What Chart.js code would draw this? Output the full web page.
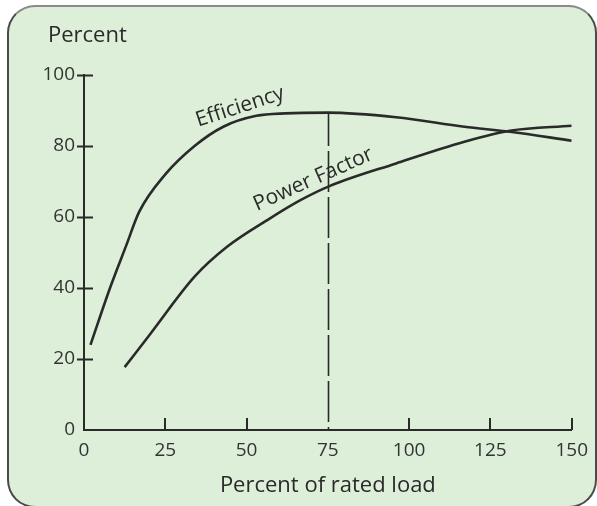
<!DOCTYPE html>
<html>
<head>
<meta charset="utf-8">
<script src="https://cdn.jsdelivr.net/npm/chart.js@4.4.1/dist/chart.umd.min.js"></script>
<style>
  html, body { margin: 0; padding: 0; background: #fff; }
  #wrap { position: relative; width: 597px; height: 506px; overflow: hidden; }
  #frame {
    position: absolute; left: 7px; top: 5px; width: 590px; height: 503px;
    box-sizing: border-box; border: 2px solid #4a4a4a; border-top-color: #8a8a8a;
    border-radius: 28px; background: #ddefd8;
  }
  #chart { position: absolute; left: 0; top: 0; }
</style>
</head>
<body>
<div id="wrap">
  <div id="frame"></div>
  <canvas id="chart" width="597" height="506"></canvas>
</div>
<script>
// values (percent of rated load -> percent)
const effLoad   = [2, 8, 13, 17, 25, 34, 43, 53, 62, 75, 96, 117, 131, 150]
const effValues = [24, 40, 52, 61.5, 72, 80, 85.5, 88.5, 89.2, 89.4, 88.1, 85.4, 84, 81.5]
const pfLoad    = [12.5, 20.5, 34, 44, 56.5, 66.7, 75.5, 96, 117, 131, 150]
const pfValues  = [17.7, 27.2, 43.2, 51.6, 59.2, 64.8, 68.7, 75.1, 81.2, 84.3, 85.7]
const xTicks = [0, 25, 50, 75, 100, 125, 150]
const yTicks = [0, 20, 40, 60, 80, 100]
const ratedMark = 75

const INK = '#2a2a2a'
const FONT = '"Open Sans", "Noto Sans", sans-serif'

function toPoints(xs, ys) {
    return xs.map((x, i) => ({x: x, y: ys[i]}))
}

// axis ticks drawn across/inside the axes, like the original figure
const tickMarks = {
    id: 'tickMarks',
    afterDatasetsDraw(chart) {
        const ctx = chart.ctx
        const xs = chart.scales.x, ys = chart.scales.y
        const x0 = xs.left, y0 = ys.bottom
        ctx.save()
        ctx.strokeStyle = INK
        ctx.lineWidth = 2
        ctx.beginPath()
        yTicks.forEach(v => {
            if (v == 0) return
            const py = Math.round(ys.getPixelForValue(v)) + 0.5
            ctx.moveTo(x0 - 7, py)
            ctx.lineTo(x0 + 9, py)
        })
        xTicks.forEach(v => {
            if (v == 0 || v == ratedMark) return
            const px = Math.round(xs.getPixelForValue(v))
            ctx.moveTo(px, y0)
            ctx.lineTo(px, y0 - 12)
        })
        ctx.stroke()
        ctx.restore()
    }
}

// dashed line at 75% load up to the efficiency curve
const ratedLine = {
    id: 'ratedLine',
    beforeDatasetsDraw(chart) {
        const ctx = chart.ctx
        const xs = chart.scales.x, ys = chart.scales.y
        const top = effValues[effLoad.indexOf(ratedMark)]
        const px = Math.round(xs.getPixelForValue(ratedMark)) + 0.5
        ctx.save()
        ctx.strokeStyle = INK
        ctx.lineWidth = 1.6
        ctx.setLineDash([41, 5])
        ctx.lineDashOffset = 38
        ctx.beginPath()
        ctx.moveTo(px, ys.getPixelForValue(0))
        ctx.lineTo(px, ys.getPixelForValue(top))
        ctx.stroke()
        ctx.restore()
    }
}

// "Percent" over the y axis and the rotated names along the curves
const textLabels = {
    id: 'textLabels',
    afterDatasetsDraw(chart) {
        const ctx = chart.ctx
        const xs = chart.scales.x, ys = chart.scales.y
        ctx.save()
        ctx.fillStyle = INK
        ctx.font = '22px ' + FONT
        ctx.textAlign = 'left'
        ctx.textBaseline = 'middle'
        ctx.fillText('Percent', xs.left - 36, 36)

        const labels = [
            {text: 'Efficiency', x: 48, y: 91, angle: -18},
            {text: 'Power Factor', x: 70.5, y: 70.6, angle: -24},
        ]
        ctx.font = '21px ' + FONT
        ctx.textAlign = 'center'
        labels.forEach(l => {
            ctx.save()
            ctx.translate(xs.getPixelForValue(l.x), ys.getPixelForValue(l.y))
            ctx.rotate(l.angle * Math.PI / 180)
            ctx.fillText(l.text, 0, 0)
            ctx.restore()
        })
        ctx.restore()
    }
}

const lineStyle = {
    borderColor: INK,
    borderWidth: 2.6,
    pointRadius: 0,
    fill: false,
    cubicInterpolationMode: 'monotone'
}

const config = {
    type: 'line',
    data: {
        datasets: [
            Object.assign({label: 'Efficiency', data: toPoints(effLoad, effValues)}, lineStyle),
            Object.assign({label: 'Power Factor', data: toPoints(pfLoad, pfValues)}, lineStyle),
        ]
    },
    options: {
        responsive: false,
        animation: false,
        devicePixelRatio: 1,
        layout: {padding: {left: 0, right: 25, top: 75, bottom: 0}},
        plugins: {
            legend: {display: false},
            tooltip: {enabled: false},
            title: {display: false}
        },
        scales: {
            x: {
                type: 'linear',
                min: 0,
                max: 150,
                afterBuildTicks: s => { s.ticks = xTicks.map(v => ({value: v})) },
                afterFit: s => { s.height = 76 },
                grid: {display: false, drawTicks: false},
                border: {display: true, color: INK, width: 2},
                ticks: {
                    autoSkip: false, maxRotation: 0, padding: 9,
                    color: '#333', font: {family: FONT, size: 19}
                },
                title: {
                    display: true,
                    text: 'Percent of rated load',
                    color: INK,
                    font: {family: FONT, size: 22},
                    padding: {top: 0, bottom: 7}
                }
            },
            y: {
                min: 0,
                max: 100,
                afterBuildTicks: s => { s.ticks = yTicks.map(v => ({value: v})) },
                afterFit: s => { s.width = 84 },
                grid: {display: false, drawTicks: false},
                border: {display: true, color: INK, width: 2},
                ticks: {
                    padding: 9,
                    color: '#333', font: {family: FONT, size: 19}
                }
            }
        }
    },
    plugins: [ratedLine, tickMarks, textLabels]
}

new Chart(document.getElementById('chart'), config)
</script>
</body>
</html>
